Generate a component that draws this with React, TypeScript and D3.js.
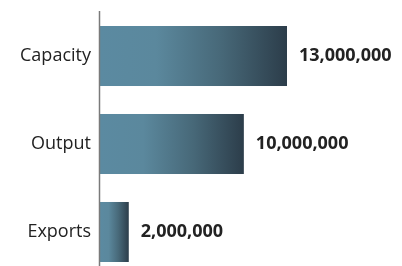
import React from "react";
import * as d3 from "d3";

const categories = ["Capacity", "Output", "Exports"];
const values = [13000000, 10000000, 2000000];

export default function App() {
  const width = 402;
  const height = 266;
  const x0 = 100;
  const x = d3.scaleLinear().domain([0, 13000000]).range([x0, 287]);
  const y = d3.scaleBand().domain(categories).range([4, 284]).paddingInner(0.318).paddingOuter(0.25);
  const fmt = d3.format(",");
  return (
    <svg width={width} height={height} style={{ position: "fixed", left: 0, top: 0 }}>
      <defs>
        <linearGradient id="barGrad" x1="0" x2="1" y1="0" y2="0">
          <stop offset="0%" stopColor="#5b8aa1" />
          <stop offset="30%" stopColor="#5b889d" />
          <stop offset="65%" stopColor="#476878" />
          <stop offset="100%" stopColor="#2c3d4a" />
        </linearGradient>
      </defs>
      {categories.map((c, i) => {
        const yy = y(c)!;
        const bw = y.bandwidth();
        return (
          <g key={c}>
            <rect x={x0} y={yy} width={x(values[i]) - x0} height={bw} fill="url(#barGrad)" />
            <text
              x={91}
              y={yy + bw / 2 - 2}
              textAnchor="end"
              dominantBaseline="central"
              fontFamily="'Open Sans', sans-serif"
              fontSize={18}
              fill="#222"
            >
              {c}
            </text>
            <text
              x={x(values[i]) + 12}
              y={yy + bw / 2 - 2}
              dominantBaseline="central"
              fontFamily="'Open Sans', sans-serif"
              fontSize={18}
              fontWeight="bold"
              fill="#222"
            >
              {fmt(values[i])}
            </text>
          </g>
        );
      })}
      <line x1={x0 - 0.5} x2={x0 - 0.5} y1={11} y2={266} stroke="#7a7a7a" strokeWidth={1.5} />
    </svg>
  );
}
